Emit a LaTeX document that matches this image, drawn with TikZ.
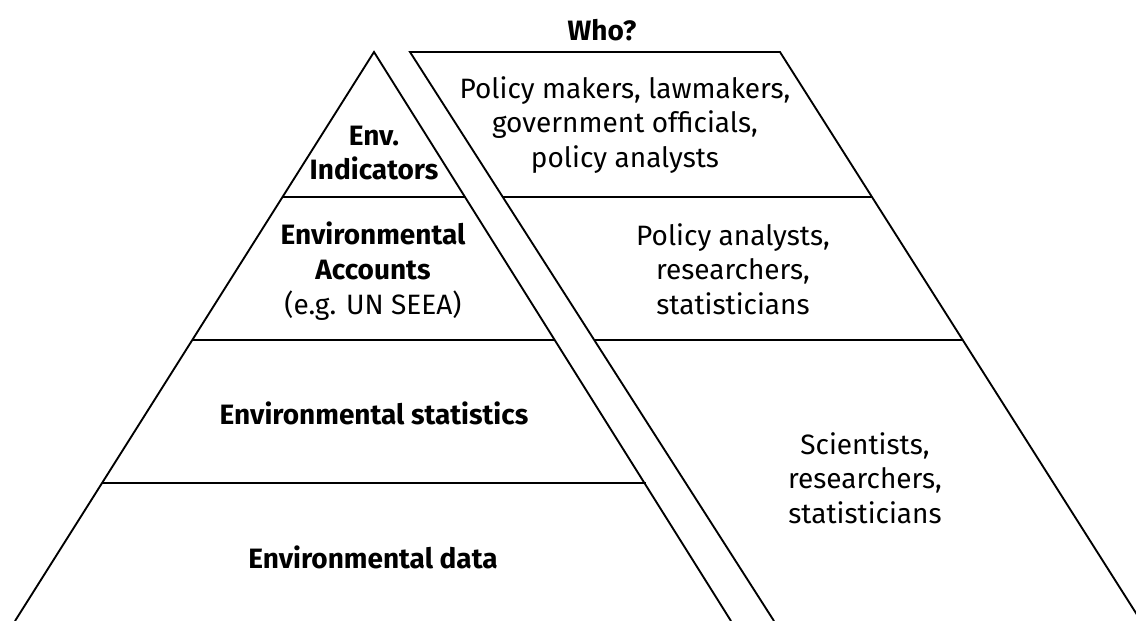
\documentclass[tikz,border=0pt]{standalone}
\usepackage{fontspec}
\setmainfont{Fira Sans}
\begin{document}
\begin{tikzpicture}[x=0.75pt,y=-0.75pt,
  edge/.style={line width=1.4pt, line join=miter},
  lbl/.style={align=center, font=\fontsize{21}{26}\selectfont, inner sep=0pt},
  blbl/.style={lbl, font=\fontsize{21}{26}\selectfont\bfseries}]
\useasboundingbox (0,0) rectangle (1136,621);
\clip (0,0) rectangle (1136,621);
% triangle
\coordinate (apex) at (374,52);
\coordinate (tbl) at (15,621);
\coordinate (tbr) at (731,621);
\draw[edge] (tbl) -- (apex) -- (tbr);
\draw[edge] (283,197) -- (465,197);
\draw[edge] (193,340) -- (555,340);
\draw[edge] (102,483) -- (646,483);
% parallelogram
\coordinate (p1) at (410,52);
\coordinate (p2) at (780,52);
\coordinate (p3) at (1141,621);
\coordinate (p4) at (774,621);
\draw[edge] (p4) -- (p1) -- (p2) -- (p3);
\draw[edge] (503,197) -- (872,197);
\draw[edge] (594,340) -- (963,340);
% labels
\node[blbl] (who) at (602,30) {Who?};
\node[blbl] (ind) at (374,153) {Env.\\Indicators};
\node[blbl, anchor=north] (acc) at (373,222) {Environmental\\Accounts\\\mdseries(e.g. UN SEEA)};
\node[blbl] (stat) at (374,413) {Environmental statistics};
\node[blbl] (data) at (373,557) {Environmental data};
\node[lbl] (w1) at (625,125) {Policy makers, lawmakers,\\government officials,\\policy analysts};
\node[lbl] (w2) at (733,269) {Policy analysts,\\researchers,\\statisticians};
\node[lbl] (w3) at (865,478) {Scientists,\\researchers,\\statisticians};
\end{tikzpicture}
\end{document}
